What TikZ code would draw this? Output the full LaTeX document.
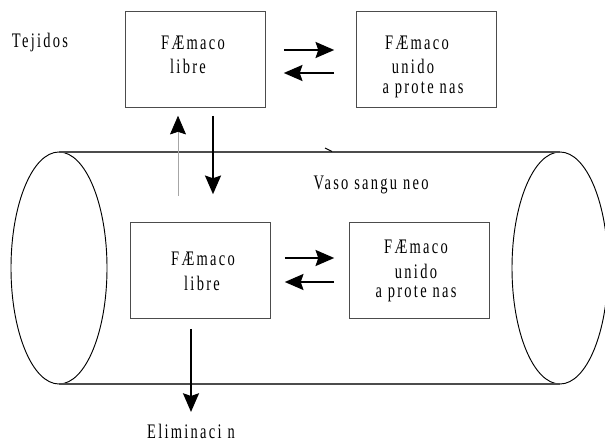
\documentclass[tikz,border=0pt]{standalone}
\usepackage{fontspec}
\setmainfont{Liberation Serif}[FakeStretch=0.7,LetterSpace=11]
\usepackage{tikz}
\usetikzlibrary{arrows.meta,calc}

\begin{document}
\begin{tikzpicture}[x=0.75pt, y=-0.75pt,
    box/.style={draw=black!70, line width=0.9pt, minimum width=104.5pt, minimum height=71.5pt, inner sep=0pt},
    lbl/.style={font=\fontsize{15.5}{17}\selectfont, inner sep=0pt},
    arr/.style={-{Stealth[length=14pt, width=12pt, inset=2pt]}, line width=1.4pt},
    wall/.style={black!70, line width=1.1pt}]
    \useasboundingbox (0,0) rectangle (605,441);

    % Vessel
    \draw[line width=0.7pt] (59,268) ellipse [x radius=48, y radius=116];
    \draw[line width=0.7pt] (560,268) ellipse [x radius=48, y radius=116];
    \draw[wall] (59,152) -- (560,152);
    \draw[wall] (59,384) -- (560,384);
    \draw[line width=0.7pt] (325,148) -- (332,151.5);
    \node[lbl] (vaso) at (371,185) {Vaso sangu neo};

    % Boxes
    \node[box] (tlib) at (195.5,59.5) {};
    \node[box] (tuni) at (426.5,59.5) {};
    \node[box] (blib) at (200.5,270.5) {};
    \node[box] (buni) at (419.5,270.5) {};

    % Labels
    \node[lbl] (tej) at (40,43) {Tejidos};
    \node[lbl] (tlibA) at (193,43) {FÆmaco};
    \node[lbl] (tlibB) at (188,66) {libre};
    \node[lbl] (tuniA) at (417,43) {FÆmaco};
    \node[lbl] (tuniB) at (413,66) {unido};
    \node[lbl] (tuniC) at (423,90) {a prote nas};
    \node[lbl] (blibA) at (203,259) {FÆmaco};
    \node[lbl] (blibB) at (202,283) {libre};
    \node[lbl] (buniA) at (416,247) {FÆmaco};
    \node[lbl] (buniB) at (416,271) {unido};
    \node[lbl] (buniC) at (416,294) {a prote nas};
    \node[lbl] (elim) at (191,431) {Eliminaci n};

    % Binding equilibria
    \draw[arr] ($(tlib.east)+(18,-9.5)$) -- ($(tuni.west)+(-22,-9.5)$);
    \draw[arr] ($(tuni.west)+(-22,13.5)$) -- ($(tlib.east)+(18,13.5)$);
    \draw[arr] ($(blib.east)+(14,-12.5)$) -- ($(buni.west)+(-15,-12.5)$);
    \draw[arr] ($(buni.west)+(-15,11.5)$) -- ($(blib.east)+(14,11.5)$);

    % Exchange and elimination
    \coordinate (inA) at ($(tlib.south)+(-17.5,88)$);
    \draw[black!35, line width=0.5pt, -{Stealth[length=14pt, width=12pt, inset=2pt, color=black]}] (inA) -- ($(tlib.south)+(-17.5,8)$);
    \draw[arr] ($(tlib.south)+(17.5,8)$) -- ($(blib.north)+(12.5,-28)$);
    \draw[arr] ($(blib.south)+(-9.5,10)$) -- ($(elim.north)+(0,-11.5)$);
\end{tikzpicture}
\end{document}
